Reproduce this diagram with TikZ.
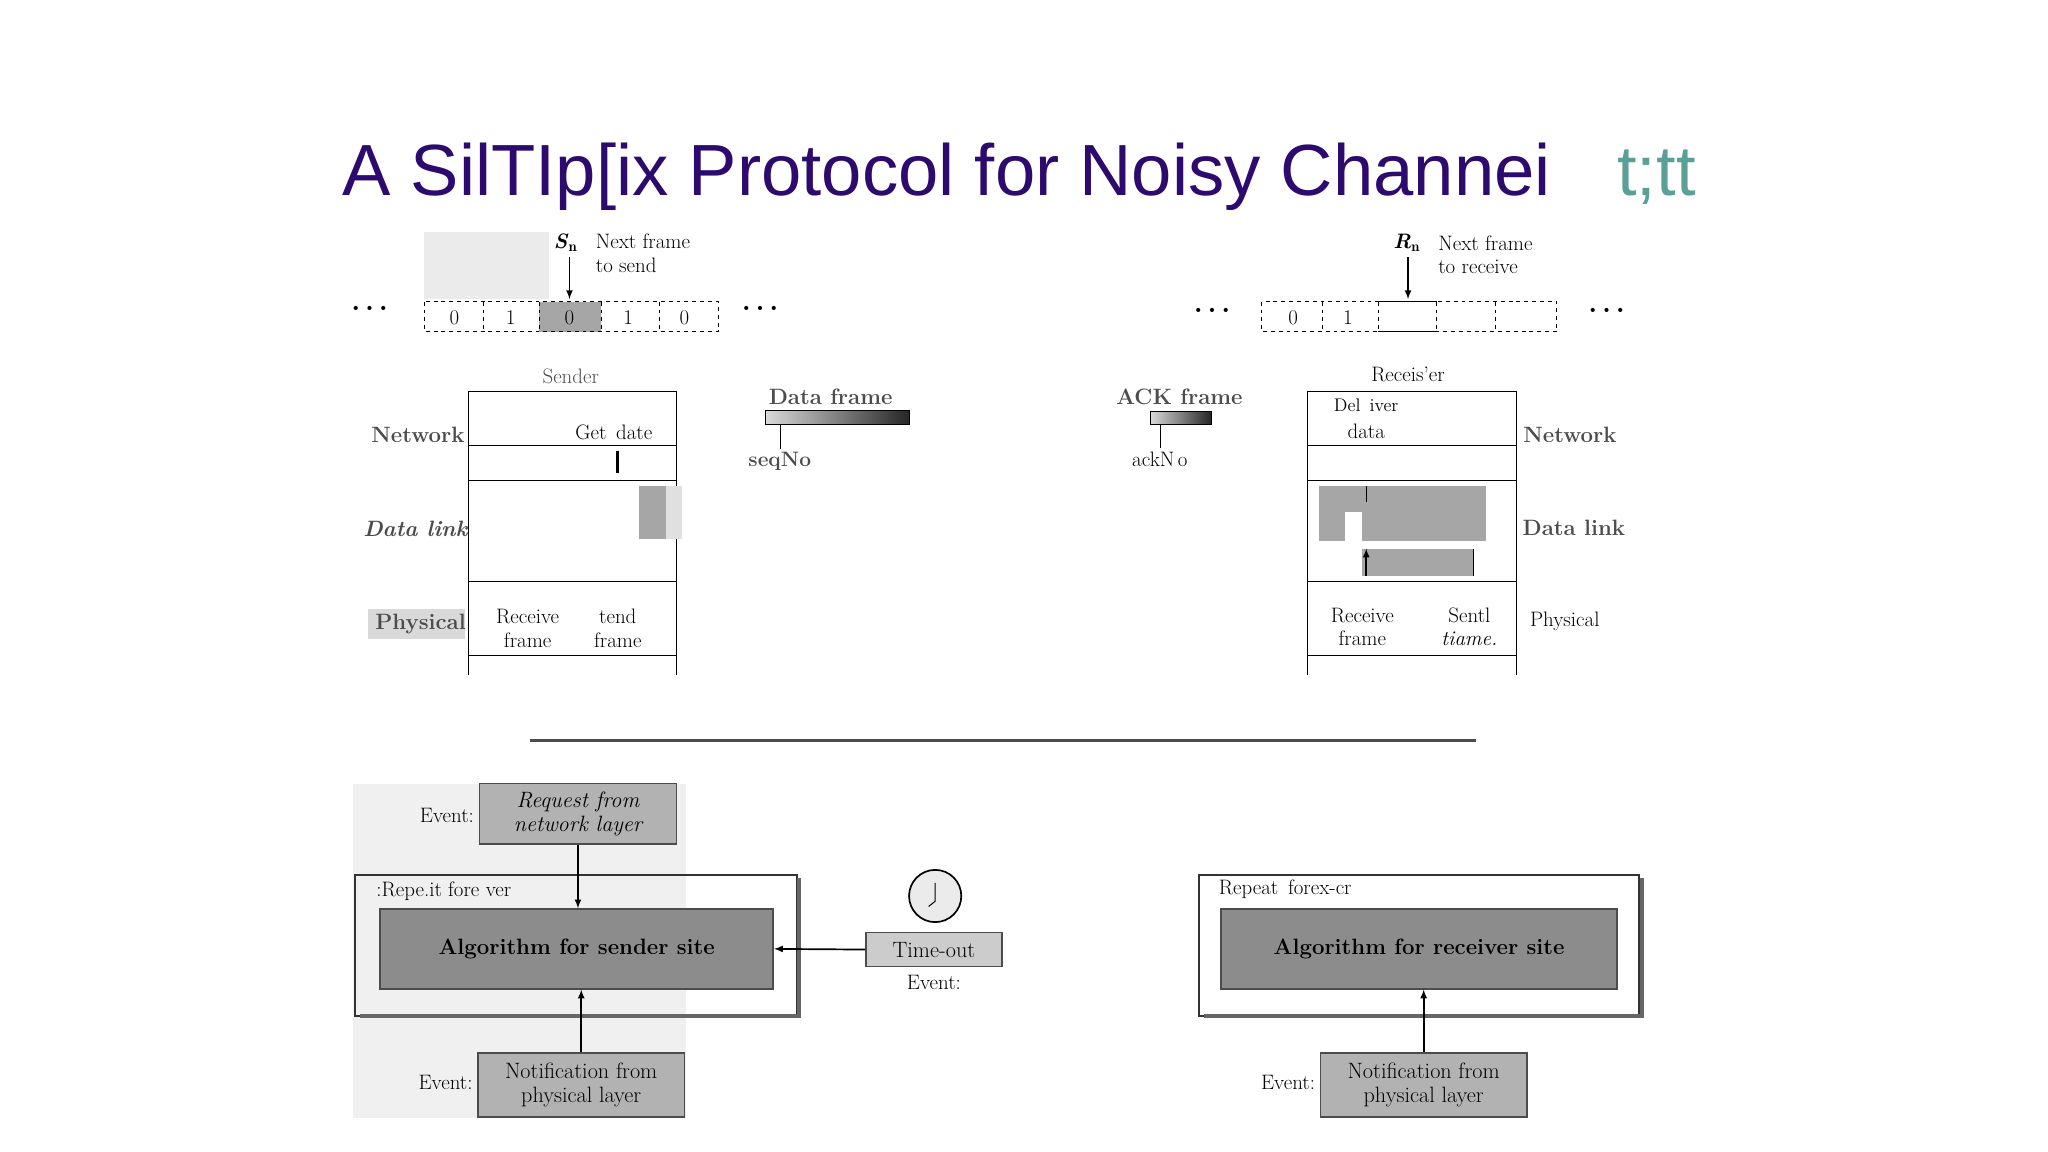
\documentclass[tikz,border=0pt]{standalone}
\usepackage{fontspec}
\newfontfamily\ttl{Liberation Sans}
\begin{document}
\begin{tikzpicture}[x=1pt,y=-1pt,
 lab/.style={font=\fontsize{16}{18}\selectfont,inner sep=1pt,align=center},
 big/.style={font=\fontsize{17}{19}\selectfont\bfseries,text=black!70,inner sep=1pt},
 gbox/.style={draw=black!70,fill=black!30,line width=1.2pt,font=\fontsize{17}{18}\selectfont\itshape,align=center},
 arr/.style={-latex,line width=1.3pt}]
\useasboundingbox (0,0) rectangle (1568,882);
% title
\node[anchor=base west,font=\ttl\fontsize{55.5}{60}\selectfont,text={rgb,255:red,45;green,10;blue,110},inner sep=0] (title) at (262,150) {A SilTIp[ix Protocol for Noisy Channei};
\node[anchor=base west,font=\ttl\fontsize{54}{60}\selectfont,text={rgb,255:red,90;green,160;blue,150},inner sep=0] (tt) at (1238,150) {t;tt};
% sender window
\fill[black!8] (325,178) rectangle (420,229);
\node[lab,font=\fontsize{22}{22}\selectfont\bfseries] (d1) at (283,236) {.\,.\,.};
\node[lab,font=\fontsize{22}{22}\selectfont\bfseries] (d2) at (582,236) {.\,.\,.};
\fill[black!35] (413,231) rectangle (460,254);
\draw[dashed,thick] (325,231) rectangle (550,254);
\foreach \x in {370,413,460,505} \draw[dashed] (\x,231)--(\x,254);
\foreach \x/\t in {348/0,391/1,436/0,481/1,524/0} \node[lab] (s\x) at (\x,243) {\t};
\node[lab] (sn) at (433,186) {\textbf{\textit{S}}$_{\mathbf n}$};
\coordinate (snb) at (436,229);
\draw[arr] (436,197) -- (snb);
\node[lab,anchor=west,align=left] (nf) at (455,194) {Next frame\\ to send};
% receiver window
\node[lab,font=\fontsize{22}{22}\selectfont\bfseries] (d3) at (928,238) {.\,.\,.};
\node[lab,font=\fontsize{22}{22}\selectfont\bfseries] (d4) at (1230,238) {.\,.\,.};
\draw[dashed,thick] (966,231) rectangle (1192,254);
\foreach \x in {1012,1055,1100,1145} \draw[dashed] (\x,231)--(\x,254);
\draw[thick] (1055,231)--(1100,231) (1055,254)--(1100,254);
\node[lab] (r0) at (990,243) {0};
\node[lab] (r1) at (1032,243) {1};
\node[lab] (rn) at (1077,186) {\textbf{\textit{R}}$_{\mathbf n}$};
\coordinate (rnb) at (1078,229);
\draw[arr] (1078,197) -- (rnb);
\node[lab,anchor=west,align=left] (nr) at (1100,195) {Next frame\\ to receive};
% sender stack
\node[lab,text=black!70] (snd) at (437,288) {Sender};
\draw[thick] (359,517)--(359,300)--(518,300)--(518,517);
\foreach \y in {341,368,445,502} \draw[thick] (359,\y)--(518,\y);
\node[big] (nw1) at (320,333) {Network};
\node[big,font=\fontsize{17}{19}\selectfont\bfseries\itshape] (dl1) at (318,405) {Data link};
\fill[black!15] (282,466) rectangle (356,489);
\node[big] (ph1) at (322,478) {Physical};
\node[lab] (gd) at (470,331) {Get\, date};
\draw[line width=2pt] (473,345)--(473,362);
\fill[black!35] (489,372) rectangle (510,413);
\fill[black!12] (510,372) rectangle (522,413);
\node[lab] (rf1) at (404,481) {Receive\\ frame};
\node[lab] (sf1) at (473,481) {tend\\ frame};
% frames
\node[big] (dfl) at (636,304) {Data frame};
\shade[left color=black!15,right color=black!85] (586,314) rectangle (696,325);
\draw (586,314) rectangle (696,325);
\node[big,font=\fontsize{16}{18}\selectfont\bfseries] (sq) at (597,353) {seqNo};
\draw (597,325)--(597,344);
\node[big] (afl) at (903,304) {ACK frame};
\shade[left color=black!15,right color=black!85] (881,315) rectangle (927,325);
\draw (881,315) rectangle (927,325);
\node[lab] (ak) at (888,352) {ackN\,o};
\draw (888,325)--(888,343);
% receiver stack
\node[lab] (rcv) at (1078,287) {Receis'er};
\draw[thick] (1001,517)--(1001,300)--(1161,300)--(1161,517);
\foreach \y in {341,368,445,502} \draw[thick] (1001,\y)--(1161,\y);
\node[lab,font=\fontsize{14}{16}\selectfont] (dv) at (1046,310) {Del\, iver};
\node[lab] (dt) at (1046,330) {data};
\node[big] (nw2) at (1202,333) {Network};
\node[big] (dl2) at (1205,404) {Data link};
\node[lab] (ph2) at (1198,476) {Physical};
\fill[black!35] (1010,372) rectangle (1138,414);
\fill[white] (1030,392) rectangle (1043,414);
\fill[white] (1138,392) rectangle (1150,414);
\fill[black!35] (1043,420) rectangle (1128,441);
\draw[thick] (1046,372)--(1046,384) (1128,420)--(1128,441);
\draw[arr] (1046,441)--(1046,420);
\node[lab] (rf2) at (1043,480) {Receive\\ frame};
\node[lab] (sf2) at (1125,480) {Sentl\\ \textit{tiame.}};
% separator
\draw[line width=2pt,black!70] (406,567)--(1130,567);
% bottom left
\fill[black!6] (270,600) rectangle (525,856);
\draw[line width=1.5pt,black!80] (272,670) rectangle (610,778);
\draw[line width=3pt,black!60] (276,778)--(612,778)--(612,672);
\node[lab,anchor=west] (rep1) at (287,682) {:Repe.it fore ver};
\node[gbox,fill=black!45,minimum width=301,minimum height=61,font=\fontsize{17}{18}\selectfont\bfseries] (alg1) at (441.5,726.5) {Algorithm for sender site};
\node[gbox,minimum width=151,minimum height=46] (req) at (442.5,623) {Request from\\ network layer};
\node[lab,anchor=east] (ev1) at (364,624) {Event:};
\draw[arr] (req.south) -- (req.south |- alg1.north);
\node[gbox,minimum width=158,minimum height=49,font=\fontsize{17}{18}\selectfont] (not1) at (445,830.5) {Notification from\\ physical layer};
\node[lab,anchor=east] (ev2) at (363,829) {Event:};
\draw[arr] (not1.north) -- (not1.north |- alg1.south);
\node[draw,circle,line width=1.3pt,fill=black!8,minimum size=40] (clk) at (716,686) {};
\draw[thick] (716,676)--(716,690)--(711,694);
\node[gbox,fill=black!20,font=\fontsize{17}{18}\selectfont,minimum width=104,minimum height=26] (to) at (715,727) {Time-out};
\node[lab] (ev3) at (715,752) {Event:};
\draw[arr] (to.west) -- (alg1.east);
% bottom right
\draw[line width=1.5pt,black!80] (918,670) rectangle (1255,778);
\draw[line width=3pt,black!60] (922,778)--(1257,778)--(1257,672);
\node[lab,anchor=west] (rep2) at (932,681) {Repeat\, forex-cr};
\node[gbox,fill=black!45,minimum width=303,minimum height=61,font=\fontsize{17}{18}\selectfont\bfseries] (alg2) at (1086.5,726.5) {Algorithm for receiver site};
\node[gbox,minimum width=158,minimum height=49,font=\fontsize{17}{18}\selectfont] (not2) at (1090,830.5) {Notification from\\ physical layer};
\node[lab,anchor=east] (ev4) at (1008,829) {Event:};
\draw[arr] (not2.north) -- (not2.north |- alg2.south);
\end{tikzpicture}
\end{document}
